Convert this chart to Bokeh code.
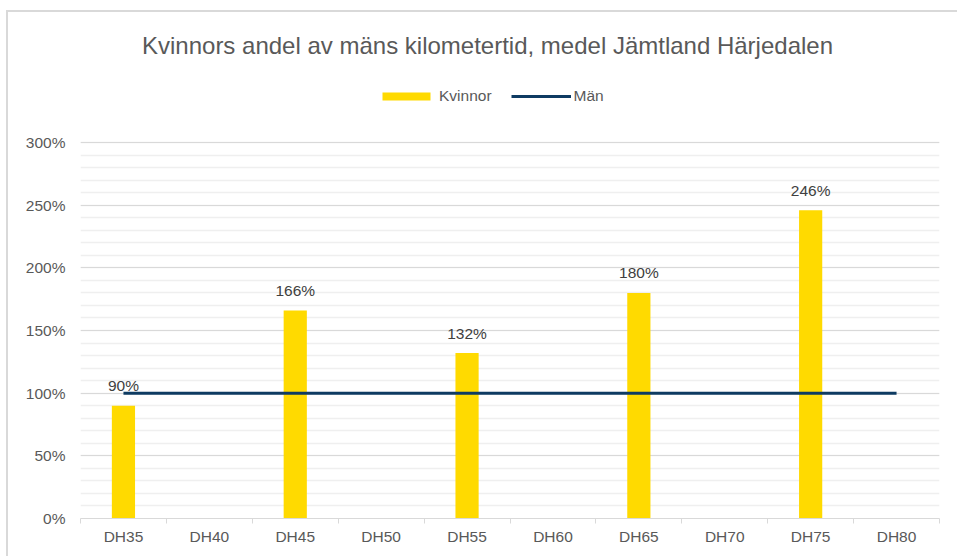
from bokeh.plotting import figure
from bokeh.models import (Range1d, LinearAxis, FixedTicker, PrintfTickFormatter, Legend,
                          LegendItem, Label, ColumnDataSource, Grid)
from bokeh.embed import file_html
from bokeh.resources import INLINE
from bokeh.core.properties import value

# ---------------- data ----------------
categories = ["DH35", "DH40", "DH45", "DH50", "DH55", "DH60", "DH65", "DH70", "DH75", "DH80"]
kvinnor = [90, None, 166, None, 132, None, 180, None, 246, None]
man = [100, 100, 100, 100, 100, 100, 100, 100, 100, 100]
y_ticks = [0, 50, 100, 150, 200, 250, 300]
title_text = "Kvinnors andel av mäns kilometertid, medel Jämtland Härjedalen"
series_names = ["Kvinnor", "Män"]

# ---------------- style ----------------
FONT = "Liberation Sans"
TEXT = "#595959"
LABEL_TEXT = "#404040"
YELLOW = "#FFDA00"
NAVY = "#0E3B62"
GRID_MAJOR = "#d9d9d9"
GRID_MINOR = "#efefef"
FS = "15.5px"

FIG_W, FIG_H = 957, 556
B_LEFT, B_RIGHT, B_TOP, B_BOTTOM = 80, 18, 0, 38
frame_h = FIG_H - B_TOP - B_BOTTOM
grid_h = 376                      # pixel height of the 0..300 % band
y_max = y_ticks[-1] * frame_h / grid_h

n = len(categories)
pos = list(range(n))              # category slot index (center of each slot)

p = figure(width=FIG_W, height=FIG_H,
           x_range=Range1d(-0.5, n - 0.5),
           y_range=Range1d(0, y_max),
           output_backend="svg", toolbar_location=None,
           x_axis_type=None, y_axis_type=None,
           min_border_left=B_LEFT, min_border_right=B_RIGHT,
           min_border_top=B_TOP, min_border_bottom=B_BOTTOM)
p.outline_line_color = None
p.background_fill_color = None
p.border_fill_color = None
p.styles = {
    "background-color": "white",
    "background-image": "linear-gradient(#d9d9d9, #d9d9d9), linear-gradient(#d9d9d9, #d9d9d9)",
    "background-size": "100% 2px, 2px 100%",
    "background-position": "6px 10px, 6px 10px",
    "background-repeat": "no-repeat, no-repeat",
}

# grid
minor = list(range(y_ticks[0], y_ticks[-1] + 1, 10))
grid = Grid(dimension=1, ticker=FixedTicker(ticks=y_ticks, minor_ticks=minor),
            bounds=(y_ticks[0], y_ticks[-1]),
            grid_line_color=GRID_MAJOR, grid_line_width=1,
            minor_grid_line_color=GRID_MINOR, minor_grid_line_width=1.5)
p.add_layout(grid, "center")

# y axis
yaxis = LinearAxis(ticker=FixedTicker(ticks=y_ticks), formatter=PrintfTickFormatter(format="%d%%"),
                   axis_line_color=None, major_tick_line_color=None, minor_tick_line_color=None,
                   major_tick_in=0, major_tick_out=0, minor_tick_in=0, minor_tick_out=0,
                   major_label_standoff=15, major_label_text_font=FONT,
                   major_label_text_font_size=FS, major_label_text_color=TEXT)
p.add_layout(yaxis, "left")

# x axis: category labels at slot centers, boundary ticks as minor ticks
edges = [i - 0.5 for i in range(n + 1)]
xaxis = LinearAxis(ticker=FixedTicker(ticks=pos, minor_ticks=edges),
                   major_label_overrides={i: c for i, c in zip(pos, categories)},
                   axis_line_color=GRID_MAJOR, major_tick_line_color=None,
                   major_tick_in=0, major_tick_out=0,
                   minor_tick_line_color=GRID_MAJOR, minor_tick_in=0, minor_tick_out=5,
                   major_label_standoff=4,
                   major_label_text_font=FONT, major_label_text_font_size=FS,
                   major_label_text_color=TEXT)
p.add_layout(xaxis, "below")

# bars
tops = [float("nan") if v is None else v for v in kvinnor]
src = ColumnDataSource(dict(x=pos, top=tops))
bars = p.vbar(x="x", top="top", bottom=0, width=0.27, source=src,
              fill_color=YELLOW, line_color=None)

# line
mline = p.line(x=pos, y=man, line_width=3, line_color=NAVY)

# data labels
lx = [i for i, v in zip(pos, kvinnor) if v is not None]
ly = [v for v in kvinnor if v is not None]
lt = [f"{v}%" for v in ly]
lsrc = ColumnDataSource(dict(x=lx, y=ly, t=lt))
p.text(x="x", y="y", text="t", source=lsrc, text_align="center", text_baseline="alphabetic",
       y_offset=-20, text_font=value(FONT), text_font_size=value(FS), text_color=LABEL_TEXT)

# title
p.add_layout(Label(x=407, y=473.5, x_units="screen", y_units="screen", text=title_text,
                   text_align="center", text_baseline="middle", text_font=FONT,
                   text_font_size="24px", text_color=TEXT))

# legend
legend = Legend(items=[LegendItem(label=value(series_names[0]), renderers=[bars]),
                       LegendItem(label=value(series_names[1]), renderers=[mline])],
                location=(296, 413), orientation="horizontal",
                glyph_width=60, glyph_height=10, label_height=16, label_standoff=3,
                spacing=19, padding=0, margin=0, border_line_color=None,
                background_fill_alpha=0, label_text_font=FONT,
                label_text_font_size=FS, label_text_color=TEXT)
p.add_layout(legend, "center")

open("out.html", "w").write(file_html(p, INLINE))
